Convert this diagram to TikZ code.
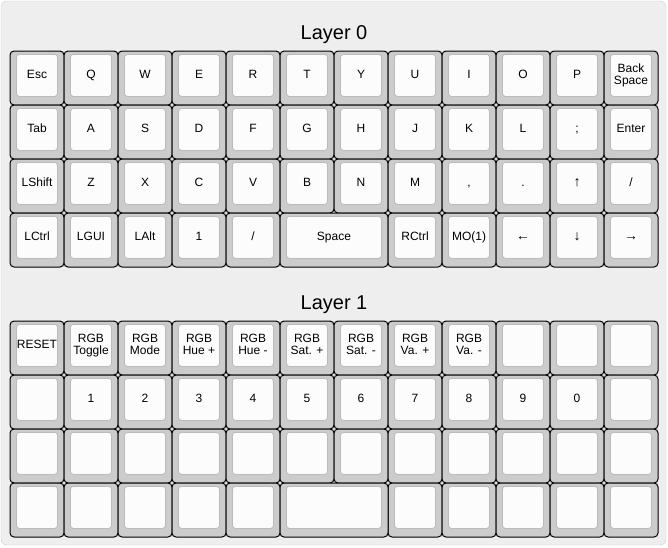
\documentclass[tikz,border=0pt]{standalone}
\usepackage{fontspec}
\setmainfont{Liberation Sans}
\usetikzlibrary{calc}

\definecolor{panelbg}{HTML}{EEEEEE}
\definecolor{panelline}{HTML}{CCCCCC}
\definecolor{capgray}{HTML}{CCCCCC}
\definecolor{captop}{HTML}{FCFCFC}
\definecolor{capline}{HTML}{BBBBBB}

\newcommand{\keyfont}{\fontsize{12}{12}\selectfont}
\newcommand{\titlefont}{\fontsize{20}{20}\selectfont}
\newcommand{\kstrut}{\rule[-2.6pt]{0pt}{12pt}}
% two-line legend, arrow legend
\newcommand{\two}[2]{#1\\\kstrut #2}
\newcommand{\arw}[1]{{\fontsize{14}{12}\selectfont #1}}

% one key: name, column, top edge, width in units, legend
\newcommand{\keycap}[5]{%
  \node[keycase, minimum width=#4*54] (#1) at (10+#2*54,-#3) {};
  \node[keytop, minimum width=#4*54-13] (#1t) at ($(#1.north)+(0,-3)$) {\kstrut #5};
}

\begin{document}
\begin{tikzpicture}[x=1pt, y=1pt,
    keycase/.style={draw=black, fill=capgray, line width=1pt, rounded corners=4pt,
      anchor=north west, minimum height=54, inner sep=0pt, outer sep=0pt},
    keytop/.style={draw=capline, fill=captop, line width=0.8pt, rounded corners=3pt,
      anchor=north, minimum height=42, inner sep=0pt, font=\keyfont, align=center},
    title/.style={font=\titlefont}]
  \useasboundingbox (0,0) rectangle (668,-547);
  \draw[panelline, fill=panelbg, rounded corners=6pt] (1,-1) rectangle (666,-545);

  \node[title] (title0) at (334,-35) {Layer 0};
  \node[title] (title1) at (334,-305) {Layer 1};

  % layer 0
  \foreach \lbl [count=\c from 0] in {Esc,Q,W,E,R,T,Y,U,I,O,P,\two{Back}{Space}}
    {\keycap{a0-\c}{\c}{51}{1}{\lbl}}
  \foreach \lbl [count=\c from 0] in {Tab,A,S,D,F,G,H,J,K,L,;,Enter}
    {\keycap{a1-\c}{\c}{105}{1}{\lbl}}
  \foreach \lbl [count=\c from 0] in {LShift,Z,X,C,V,B,N,M,{,},.,\arw{↑},/}
    {\keycap{a2-\c}{\c}{159}{1}{\lbl}}
  \foreach \lbl [count=\c from 0] in {LCtrl,LGUI,LAlt,1,/}
    {\keycap{a3-\c}{\c}{213}{1}{\lbl}}
  \keycap{a3-5}{5}{213}{2}{Space}
  \foreach \lbl [count=\c from 7] in {RCtrl,MO(1),\arw{←},\arw{↓},\arw{→}}
    {\keycap{a3-\c}{\c}{213}{1}{\lbl}}

  % layer 1
  \foreach \lbl [count=\c from 0] in {RESET,\two{RGB}{Toggle},\two{RGB}{Mode},
      \two{RGB}{Hue +},\two{RGB}{Hue -},\two{RGB}{Sat. +},\two{RGB}{Sat. -},
      \two{RGB}{Va. +},\two{RGB}{Va. -},{},{},{}}
    {\keycap{b0-\c}{\c}{321}{1}{\lbl}}
  \foreach \lbl [count=\c from 0] in {{},1,2,3,4,5,6,7,8,9,0,{}}
    {\keycap{b1-\c}{\c}{375}{1}{\lbl}}
  \foreach \c in {0,...,11}
    {\keycap{b2-\c}{\c}{429}{1}{}}
  \foreach \c in {0,1,2,3,4,7,8,9,10,11}
    {\keycap{b3-\c}{\c}{483}{1}{}}
  \keycap{b3-5}{5}{483}{2}{}
\end{tikzpicture}
\end{document}
